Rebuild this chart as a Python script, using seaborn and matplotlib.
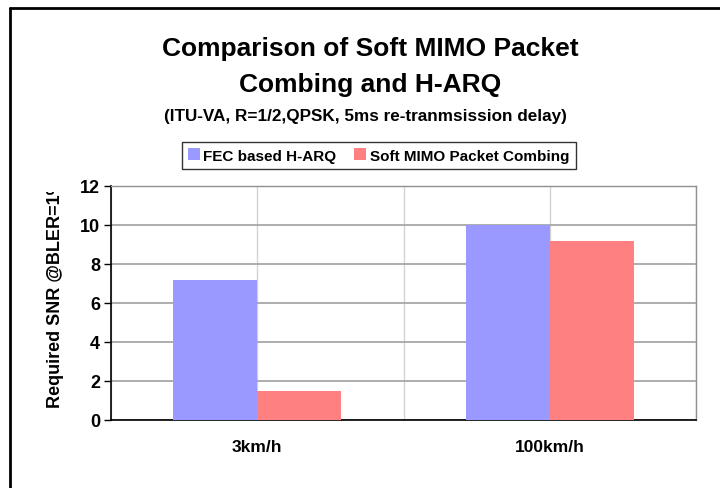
import seaborn as sns
import pandas as pd
import matplotlib.pyplot as plt
from matplotlib.lines import Line2D
from matplotlib.transforms import Bbox

speeds = ["3km/h", "100km/h"]
fec_harq = [7.2, 10.0]
soft_mimo = [1.5, 9.2]
series_names = ["FEC based H-ARQ", "Soft MIMO Packet Combing"]
bar_colors = ["#9999FF", "#FF8080"]


def main():
    data = pd.DataFrame({
        "Speed": speeds * 2,
        "SNR": fec_harq + soft_mimo,
        "Scheme": [series_names[0]] * len(speeds) + [series_names[1]] * len(speeds),
    })

    sns.set_style("white")
    plt.rcParams["font.family"] = ["Liberation Sans", "DejaVu Sans"]
    plt.rcParams["font.weight"] = "bold"
    plt.rcParams["text.color"] = "black"
    plt.rcParams["xtick.color"] = "black"
    plt.rcParams["ytick.color"] = "black"

    fig = plt.figure(figsize=(7.2, 4.89), dpi=100)
    ax = fig.add_axes([111 / 720, 1 - 421 / 489, 585 / 720, 234 / 489])

    sns.barplot(data=data, x="Speed", y="SNR", hue="Scheme",
                palette=bar_colors, width=0.573, gap=0, saturation=1,
                linewidth=0, legend=False, ax=ax, zorder=3)

    ax.set_xlim(-0.5, 1.5)
    ax.set_ylim(0, 12)
    ax.set_yticks(range(0, 13, 2))
    ax.set_xticks([0, 1])
    ax.set_xticks([-0.5, 0.5, 1.5], minor=True)
    ax.set_xticklabels(speeds, fontsize=12.5, fontweight="bold")
    ax.tick_params(axis="x", which="major", length=0, pad=14)
    ax.tick_params(axis="x", which="minor", length=5, width=1, color="black", direction="out")
    ax.tick_params(axis="y", length=5, width=1, color="black", direction="out",
                   labelsize=13, pad=3, left=True)
    for lab in ax.get_yticklabels():
        lab.set_fontweight("bold")

    # gridlines: grey horizontals, light verticals at category centres and edges
    ax.yaxis.grid(True, color="#a0a0a0", linewidth=1.2, zorder=0)
    ax.xaxis.grid(True, which="both", color="#d4d4d4", linewidth=1, zorder=0)
    ax.set_axisbelow(True)

    for side in ["top", "right"]:
        ax.spines[side].set_color("#909090")
        ax.spines[side].set_linewidth(1)
    ax.spines["left"].set_color("black")
    ax.spines["bottom"].set_color("black")
    ax.spines["left"].set_linewidth(1.2)
    ax.spines["bottom"].set_linewidth(1.2)

    ax.set_xlabel("")
    ax.set_ylabel("")

    # y label, clipped at the top like the original
    ylab = fig.text(56 / 720, 1 - 408 / 489, "Required SNR @BLER=1%", rotation=90,
                    ha="center", va="bottom", fontsize=13, fontweight="bold")
    ylab.set_clip_box(Bbox.from_extents(0, 0, 720, 489 - 193))
    ylab.set_clip_on(True)

    # titles
    fig.text(370 / 720, 1 - 67 / 489, "Comparison of Soft MIMO Packet\nCombing and H-ARQ",
             ha="center", va="center", fontsize=19, fontweight="bold", linespacing=1.65)
    fig.text(365 / 720, 1 - 116 / 489, "(ITU-VA, R=1/2,QPSK, 5ms re-tranmsission delay)",
             ha="center", va="center", fontsize=12.3, fontweight="bold")

    handles = [Line2D([], [], marker="s", linestyle="", markersize=9,
                      markerfacecolor=c, markeredgewidth=0) for c in bar_colors]
    leg = fig.legend(handles, series_names, loc="center", ncol=2,
                     bbox_to_anchor=(379 / 720, 1 - 156.5 / 489),
                     frameon=True, fancybox=False, edgecolor="black",
                     prop={"weight": "bold", "size": 11},
                     handlelength=0.6, handletextpad=0.3, columnspacing=1.3,
                     borderpad=0.45)
    leg.get_frame().set_linewidth(1)

    # outer chart border (top and left visible)
    fig.add_artist(Line2D([10 / 720, 10 / 720], [0, 1 - 9 / 489], color="black",
                          linewidth=2, transform=fig.transFigure))
    fig.add_artist(Line2D([10 / 720, 1], [1 - 9 / 489, 1 - 9 / 489], color="black",
                          linewidth=2, transform=fig.transFigure))

    plt.savefig("out.png", dpi=100)


if __name__ == "__main__":
    main()
